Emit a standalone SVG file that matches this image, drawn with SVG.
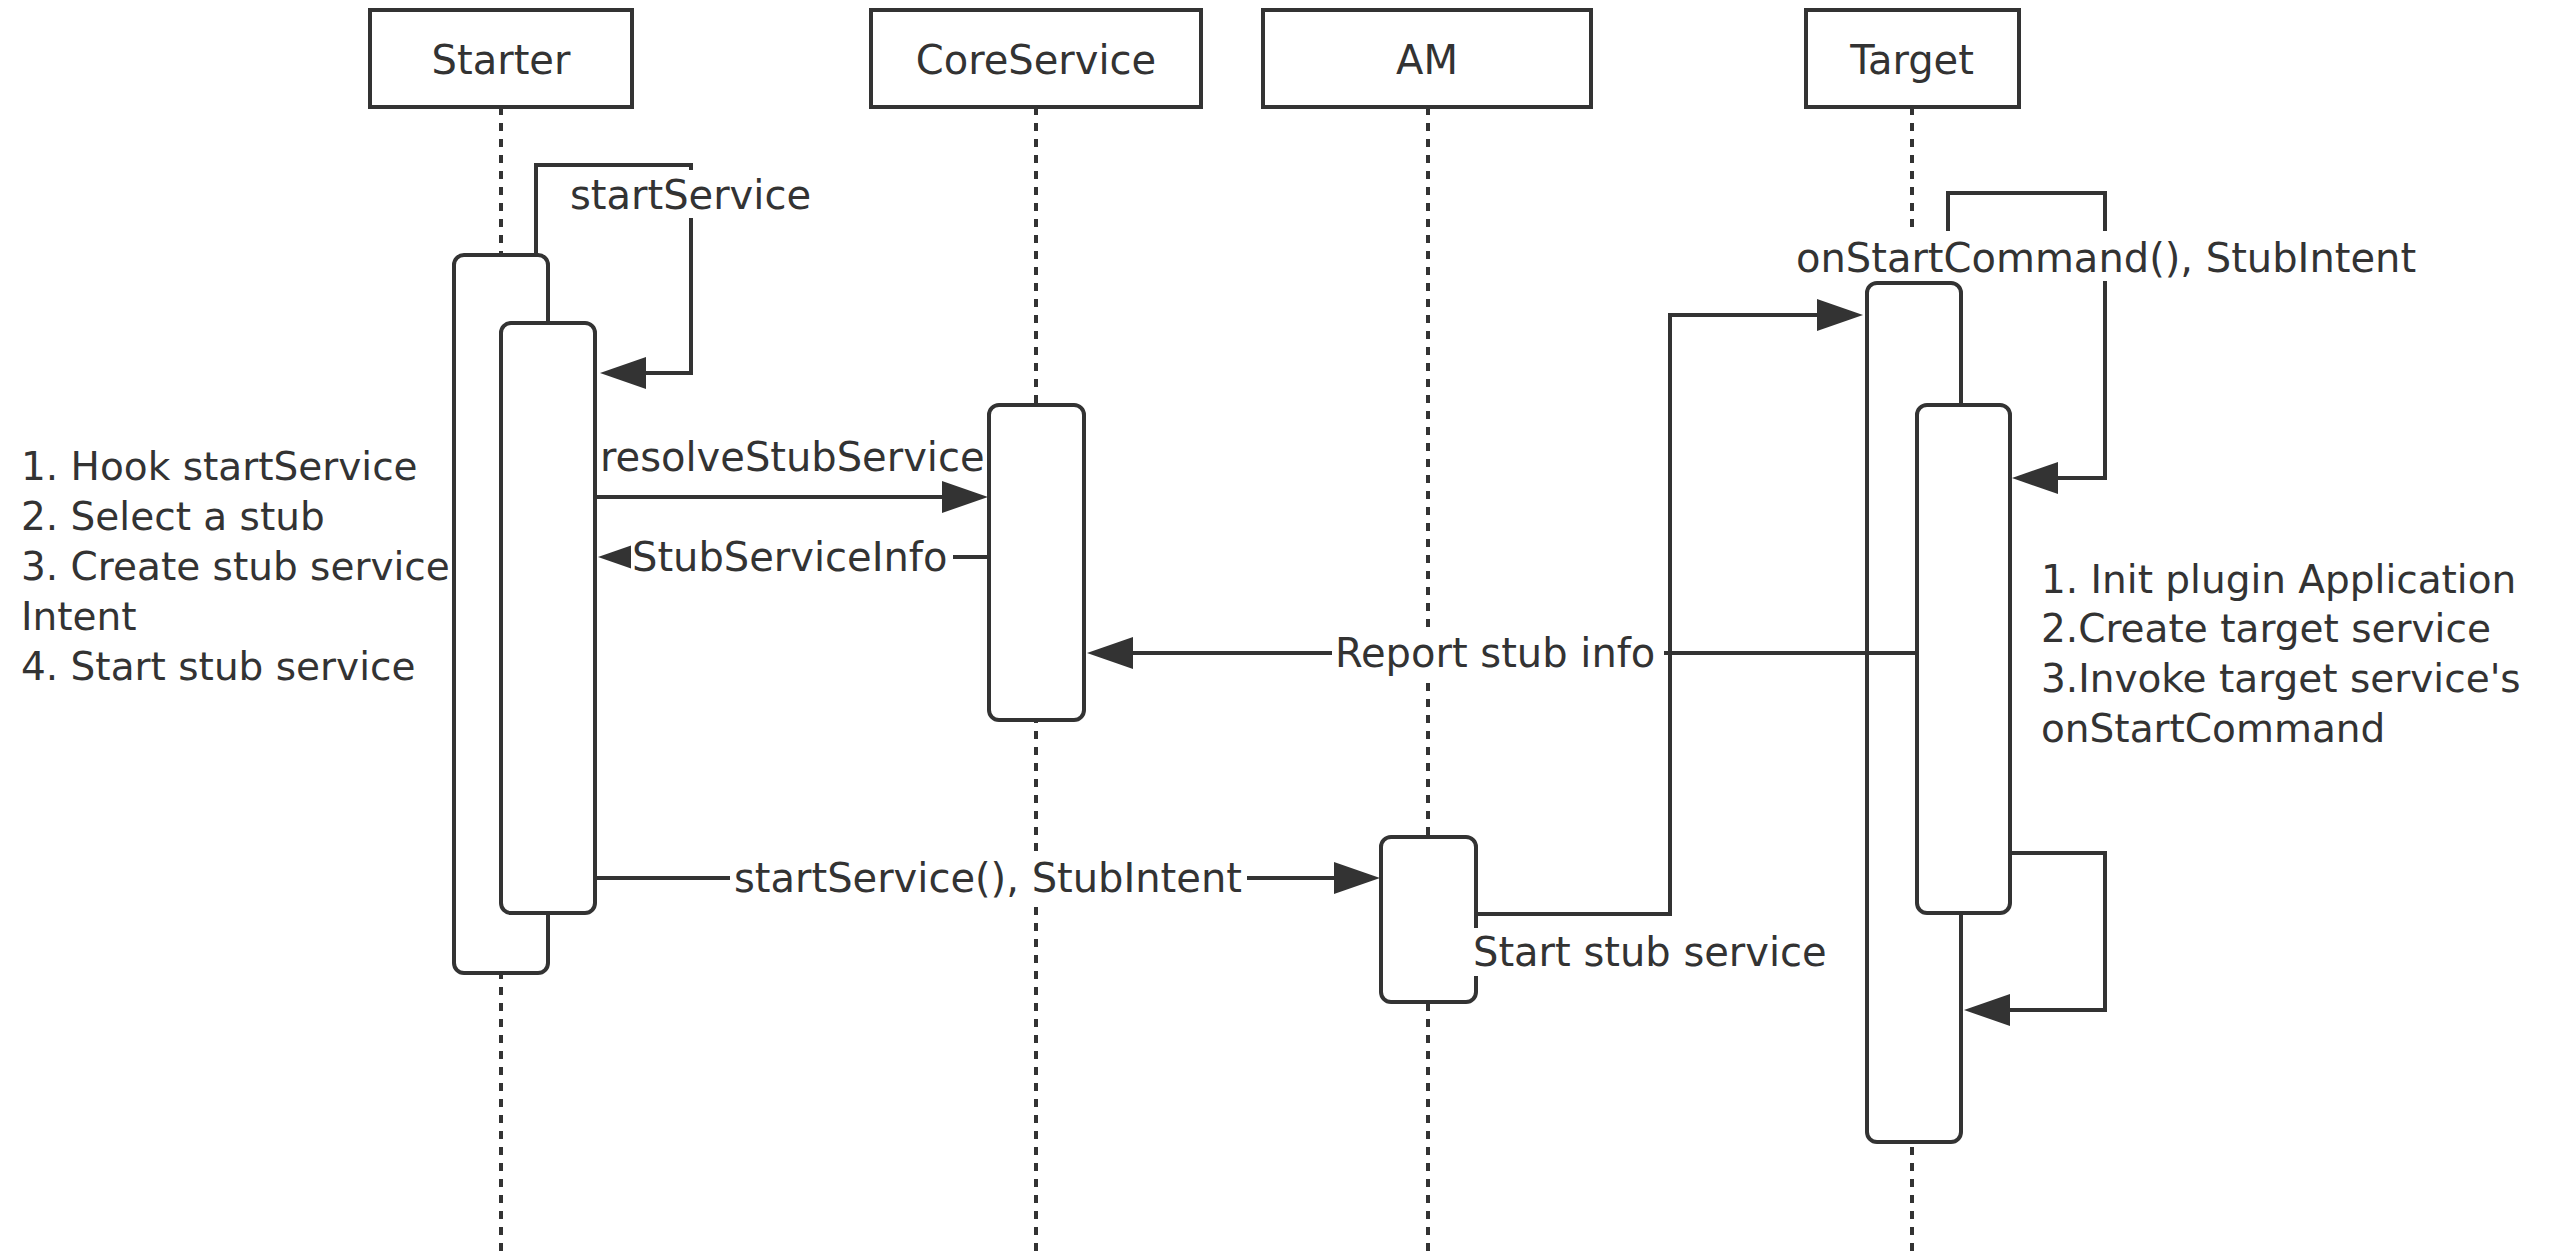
<svg xmlns="http://www.w3.org/2000/svg" width="2550" height="1254" viewBox="0 0 2550 1254">
<style>
  .hdr { fill: #ffffff; stroke: #333333; stroke-width: 4; }
  .life { fill: none; stroke: #333333; stroke-width: 4; stroke-dasharray: 8 8; }
  .act { fill: #ffffff; stroke: #333333; stroke-width: 4; }
  .msg { fill: none; stroke: #333333; stroke-width: 4; marker-end: url(#arrow); }
  .bg { fill: #ffffff; stroke: none; }
  text { font-family: "DejaVu Sans", "Liberation Sans", sans-serif; font-size: 40px; fill: #333333; }
  .note { font-size: 39px; }
  .c { text-anchor: middle; }
</style>
<defs>
  <marker id="arrow" viewBox="0 -16 46 32" markerWidth="46" markerHeight="32" refX="0" refY="0" markerUnits="userSpaceOnUse" orient="auto">
    <path d="M0,-16 L46,0 L0,16 Z" fill="#333333"/>
  </marker>
</defs>
<rect width="2550" height="1254" fill="#ffffff"/>

<g id="starter">
  <line class="life" x1="501" y1="107" x2="501" y2="1254"/>
  <rect class="hdr" x="370" y="10" width="262" height="97"/>
  <text class="c" x="501" y="74">Starter</text>
  <rect class="act" x="454" y="255" width="94" height="718" rx="10"/>
  <rect class="act" x="501" y="323" width="94" height="590" rx="10"/>
</g>

<g id="coreservice">
  <line class="life" x1="1036" y1="107" x2="1036" y2="1254"/>
  <rect class="hdr" x="871" y="10" width="330" height="97"/>
  <text class="c" x="1036" y="74">CoreService</text>
  <rect class="act" x="989" y="405" width="95" height="315" rx="10"/>
</g>

<g id="am">
  <line class="life" x1="1428" y1="107" x2="1428" y2="1254"/>
  <rect class="hdr" x="1263" y="10" width="328" height="97"/>
  <text class="c" x="1427" y="74">AM</text>
  <rect class="act" x="1381" y="837" width="95" height="165" rx="10"/>
</g>

<g id="target">
  <line class="life" x1="1912" y1="107" x2="1912" y2="1254"/>
  <rect class="hdr" x="1806" y="10" width="213" height="97"/>
  <text class="c" x="1912" y="74">Target</text>
  <rect class="act" x="1867" y="283" width="94" height="859" rx="10"/>
  <rect class="act" x="1917" y="405" width="93" height="508" rx="10"/>
</g>

<g id="connectors">
  <path class="msg" d="M536,255 V165 H691 V373 H646"/>
  <path class="msg" d="M595,497 H942"/>
  <path class="msg" d="M989,557 H644"/>
  <path class="msg" d="M1917,653 H1133"/>
  <path class="msg" d="M595,878 H1334"/>
  <path class="msg" d="M1476,914 H1670 V315 H1817"/>
  <path class="msg" d="M1948,283 V193 H2105 V478 H2058"/>
  <path class="msg" d="M2010,853 H2105 V1010 H2010"/>
</g>

<g id="labels">
  <rect class="bg" x="566" y="170" width="246" height="48"/>
  <text x="570" y="209">startService</text>
  <text x="600" y="471">resolveStubService</text>
  <rect class="bg" x="631" y="535" width="322" height="46"/>
  <text x="632" y="571">StubServiceInfo</text>
  <rect class="bg" x="1332" y="628" width="332" height="54"/>
  <text x="1335" y="667">Report stub info</text>
  <rect class="bg" x="730" y="854" width="517" height="48"/>
  <text x="734" y="892">startService(), StubIntent</text>
  <rect class="bg" x="1474" y="928" width="358" height="48"/>
  <text x="1473" y="966">Start stub service</text>
  <rect class="bg" x="1792" y="231" width="626" height="50"/>
  <text x="1796" y="272">onStartCommand(), StubIntent</text>
</g>

<g id="note-starter" class="note">
  <text class="note" x="21" y="480">1. Hook startService</text>
  <text class="note" x="21" y="530">2. Select a stub</text>
  <text class="note" x="21" y="580">3. Create stub service</text>
  <text class="note" x="21" y="630">Intent</text>
  <text class="note" x="21" y="680">4. Start stub service</text>
</g>

<g id="note-target">
  <text class="note" x="2041" y="593">1. Init plugin Application</text>
  <text class="note" x="2041" y="642">2.Create target service</text>
  <text class="note" x="2041" y="692">3.Invoke target service's</text>
  <text class="note" x="2041" y="742">onStartCommand</text>
</g>
</svg>
